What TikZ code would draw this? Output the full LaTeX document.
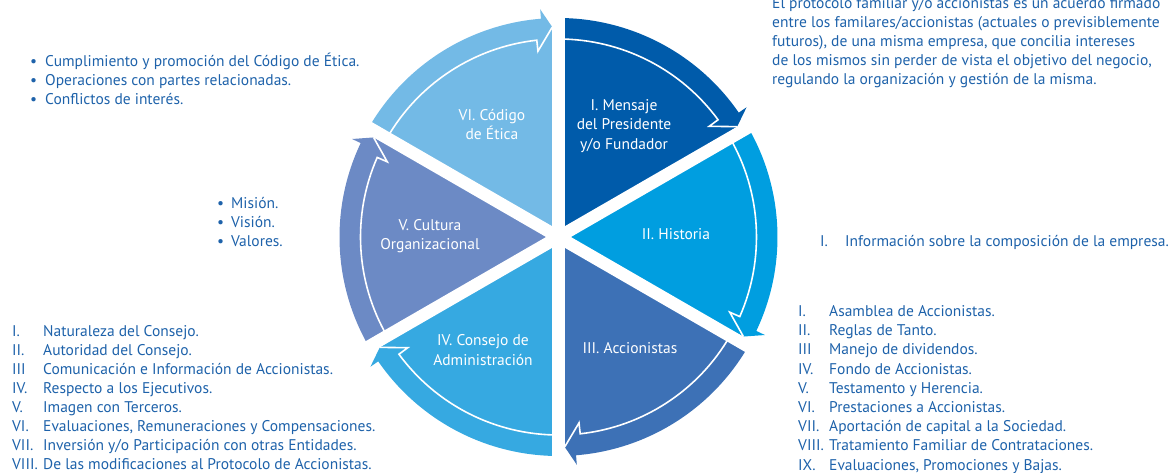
\documentclass[tikz,border=0pt]{standalone}
\usepackage{fontspec}
\setmainfont{PT Sans}
\usepackage{xcolor}
\usetikzlibrary{calc, positioning}

\definecolor{secI}{RGB}{0,91,170}
\definecolor{secII}{RGB}{0,158,224}
\definecolor{secIII}{RGB}{61,113,182}
\definecolor{secIV}{RGB}{54,169,225}
\definecolor{secV}{RGB}{108,138,197}
\definecolor{secVI}{RGB}{115,186,230}
\definecolor{listblue}{RGB}{30,98,170}

\begin{document}
\begin{tikzpicture}[x=1pt, y=1pt, font=\fontsize{15.5}{19.2}\selectfont]
    % Define styles locally
    \tikzstyle{wedge label} = [text=white, align=center, inner sep=0pt]
    \tikzstyle{list} = [text=listblue, anchor=base west, inner sep=0pt]
    \tikzstyle{gap} = [white, line width=12.4pt]
    \tikzstyle{rim} = [white, line width=1.6pt]

    \useasboundingbox (-558.5,-235) rectangle (611.5,237);

    % Sectors, each one ending in an arrow head (clockwise)
    \foreach \a/\col in {30/secI, -30/secII, -90/secIII, -150/secIV, -210/secV, 90/secVI} {
        \fill[\col] (0,0) -- (\a+60:219) arc[start angle=\a+60, end angle=\a+4.6, radius=219pt]
            -- (\a+4.6:228.5) -- (\a+1.7:210) -- cycle;
    }

    % Gaps between the sectors
    \foreach \a in {90, 30, -30, -90, -150, 150}
        \draw[gap] (0,0) -- (\a:245);

    % Inner outline of every arrow
    \foreach \a in {90, 30, -30, -90, -150, -210}
        \draw[rim] (\a+60:198) arc[start angle=\a+60, end angle=\a+6.3, radius=198pt]
            -- (\a+6.3:187) -- (\a+1.7:210);

    % Sector titles
    \node[wedge label] (etica) at (-66.5,112.5) {VI. Código\\de Ética};
    \node[wedge label] (mensaje) at (65.5,111) {I. Mensaje\\del Presidente\\y/o Fundador};
    \node[wedge label] (historia) at (117.5,3) {II. Historia};
    \node[wedge label] (accionistas) at (71.5,-111) {III. Accionistas};
    \node[wedge label] (consejo) at (-75.5,-113) {IV. Consejo de\\Administración};
    \node[wedge label] (cultura) at (-128.5,1) {V. Cultura\\Organizacional};

    % Lists around the circle
    \node[list] (etica items) at (-528.5,171) {\begin{tabular}[t]{@{}p{15pt}@{}l@{}}
        \textbullet & Cumplimiento y promoción del Código de Ética.\\
        \textbullet & Operaciones con partes relacionadas.\\
        \textbullet & Conflictos de interés.
    \end{tabular}};

    \node[list] (cultura items) at (-341.5,29) {\begin{tabular}[t]{@{}p{14pt}@{}l@{}}
        \textbullet & Misión.\\
        \textbullet & Visión.\\
        \textbullet & Valores.
    \end{tabular}};

    \node[list, font=\fontsize{15.5}{18.95}\selectfont] (consejo items) at (-546.5,-99.5) {\begin{tabular}[t]{@{}p{31pt}@{}l@{}}
        I. & Naturaleza del Consejo.\\
        II. & Autoridad del Consejo.\\
        III & Comunicación e Información de Accionistas.\\
        IV. & Respecto a los Ejecutivos.\\
        V. & Imagen con Terceros.\\
        VI. & Evaluaciones, Remuneraciones y Compensaciones.\\
        VII. & Inversión y/o Participación con otras Entidades.\\
        VIII. & De las modificaciones al Protocolo de Accionistas.
    \end{tabular}};

    \node[list] (accionistas items) at (239.5,-79.5) {\begin{tabular}[t]{@{}p{31pt}@{}l@{}}
        I. & Asamblea de Accionistas.\\
        II. & Reglas de Tanto.\\
        III & Manejo de dividendos.\\
        IV. & Fondo de Accionistas.\\
        V. & Testamento y Herencia.\\
        VI. & Prestaciones a Accionistas.\\
        VII. & Aportación de capital a la Sociedad.\\
        VIII. & Tratamiento Familiar de Contrataciones.\\
        IX. & Evaluaciones, Promociones y Bajas.
    \end{tabular}};

    \node[list] (historia items) at (261.5,-9) {\begin{tabular}[t]{@{}p{25pt}@{}l@{}}
        I. & Información sobre la composición de la empresa.
    \end{tabular}};

    \node[list] (protocolo) at (213.5,229) {\begin{tabular}[t]{@{}l@{}}
        El protocolo familiar y/o accionistas es un acuerdo firmado\\
        entre los familares/accionistas (actuales o previsiblemente\\
        futuros), de una misma empresa, que concilia intereses\\
        de los mismos sin perder de vista el objetivo del negocio,\\
        regulando la organización y gestión de la misma.
    \end{tabular}};
\end{tikzpicture}
\end{document}
